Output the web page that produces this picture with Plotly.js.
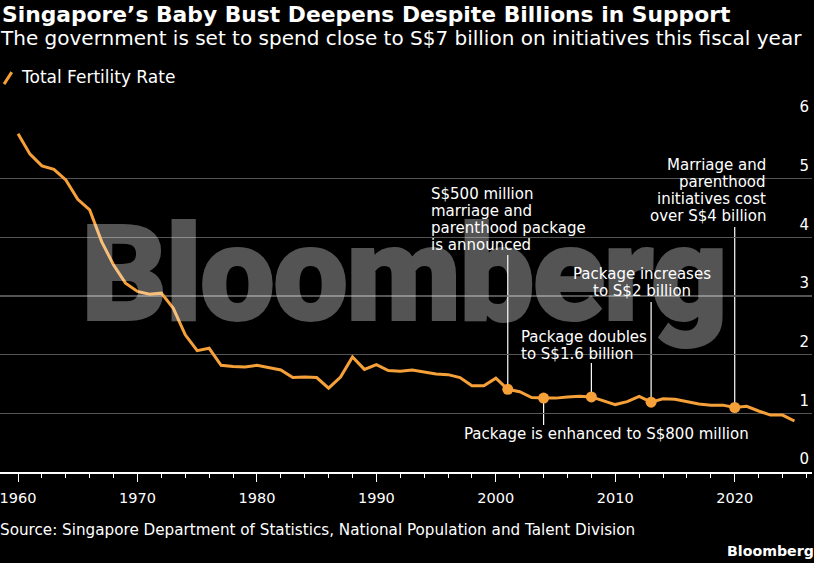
<!DOCTYPE html>
<html><head><meta charset="utf-8">
<script src="https://cdn.plot.ly/plotly-3.0.1.min.js"></script>
<style>
html,body{margin:0;padding:0;background:#000}
#chart{width:814px;height:563px}
g.annotation[data-index="0"] text{letter-spacing:-2.2px;stroke:#fff;stroke-width:2px}
</style></head><body><div id="chart"></div>
<script>
const years=[];for(let y=1960;y<=2025;y++)years.push(y);
const fertility=[5.77,5.42,5.22,5.16,4.98,4.65,4.47,3.93,3.53,3.22,3.08,3.03,3.05,2.79,2.34,2.07,2.11,1.82,1.80,1.79,1.82,1.78,1.74,1.61,1.62,1.61,1.43,1.62,1.96,1.75,1.83,1.73,1.72,1.74,1.71,1.67,1.66,1.61,1.47,1.47,1.60,1.41,1.37,1.27,1.26,1.26,1.28,1.29,1.28,1.22,1.15,1.20,1.29,1.19,1.25,1.24,1.20,1.16,1.14,1.14,1.10,1.12,1.04,0.97,0.97,0.87];
const markerYears=[2001,2004,2008,2013,2020];
const markerValues=markerYears.map(y=>fertility[years.indexOf(y)]);
const leaderEnds=[3.7,0.8,1.86,2.9,4.18];
const noteLines=[
 ["S$500 million","marriage and","parenthood package","is announced"],
 ["Package is enhanced to S$800 million"],
 ["Package doubles","to S$1.6 billion"],
 ["Package increases","to S$2 billion"],
 ["Marriage and","parenthood","initiatives cost","over S$4 billion"]];
const noteX=[1994.55,2009.3,2002.08,2012.2,2022.8];
const noteY=[4.74,0.64,2.31,3.38,5.23];
const noteAnchor=["left","center","left","center","right"];
const TXT="DejaVu Sans";
const ann=[{text:"Bloomberg",xref:"paper",yref:"paper",x:0.497,y:0.56,xanchor:"center",yanchor:"middle",showarrow:false,opacity:0.33,
  font:{family:"Roboto",size:134,weight:900,color:"#fff"}}];
noteLines.forEach((ls,n)=>ls.forEach((t,i)=>ann.push({text:t,x:noteX[n],y:noteY[n],xref:"x",yref:"y",xanchor:noteAnchor[n],yanchor:"middle",yshift:-17*i,showarrow:false,xshift:n==0||n==2?-2:0,font:{family:TXT,size:15,color:"#fff"}})));
ann.push({text:"The government is set to spend close to S$7 billion on initiatives this fiscal year",xref:"paper",yref:"paper",x:0,y:1.2326,xanchor:"left",yanchor:"middle",showarrow:false,xshift:-2,font:{family:TXT,size:20,color:"#fff"}});
ann.push({text:"Total Fertility Rate",xref:"paper",yref:"paper",x:0.0235,y:1.1217,xanchor:"left",yanchor:"middle",showarrow:false,font:{family:TXT,size:17,color:"#fff"}});
ann.push({text:"Source: Singapore Department of Statistics, National Population and Talent Division",xref:"paper",yref:"paper",x:0,y:-0.1653,xanchor:"left",yanchor:"middle",showarrow:false,xshift:-2,font:{family:TXT,size:15.2,color:"#fff"}});
ann.push({text:"<b>Bloomberg</b>",xref:"paper",yref:"paper",x:1,y:-0.2247,xanchor:"right",yanchor:"middle",showarrow:false,xshift:4,font:{family:TXT,size:14.2,color:"#fff"}});
const shapes=markerYears.map((y,i)=>({type:"line",layer:"below",x0:y,x1:y,y0:markerValues[i],y1:leaderEnds[i],xref:"x",yref:"y",line:{color:"#fff",width:1.2}}));
shapes.push({type:"line",xref:"paper",yref:"paper",x0:0.005,x1:0.0145,y0:1.102,y1:1.136,line:{color:"#f6a03a",width:3}});
Plotly.newPlot("chart",[
 {x:years,y:fertility,type:"scatter",mode:"lines",name:"Total Fertility Rate",line:{color:"#f6a03a",width:3},hoverinfo:"skip"},
 {x:markerYears,y:markerValues,type:"scatter",mode:"markers",marker:{color:"#f6a03a",size:11},hoverinfo:"skip"}
],{
 width:814,height:563,paper_bgcolor:"#000",plot_bgcolor:"#000",showlegend:false,
 margin:{l:0,r:2,t:119.8,b:90.5,pad:0},
 title:{text:"<b>Singapore’s Baby Bust Deepens Despite Billions in Support</b>",x:0,xref:"container",xanchor:"left",y:0.974,yref:"container",yanchor:"middle",pad:{l:2},font:{family:TXT,size:21.8,color:"#fff"}},
 xaxis:{range:[1958.49,2026.47],tick0:1960,dtick:10,ticks:"outside",ticklen:8,tickwidth:1,tickcolor:"#fff",showgrid:false,zeroline:false,showline:true,linecolor:"#fff",linewidth:1.5,
   minor:{dtick:2,tick0:1960,ticks:"outside",ticklen:4,tickwidth:1,tickcolor:"#fff",showgrid:false},
   tickfont:{family:TXT,size:14.5,color:"#fff"},ticklabelstandoff:4,ticklabeloverflow:"allow"},
 yaxis:{range:[0,6.003],side:"right",dtick:1,ticks:"",gridcolor:"#555",gridwidth:1.2,zeroline:false,showline:false,ticklabelposition:"inside",ticklabelshift:-13,ticklabeloverflow:"allow",tickfont:{family:TXT,size:15,color:"#fff"}},
 annotations:ann,shapes:shapes
},{displayModeBar:false,staticPlot:true});
</script></body></html>
